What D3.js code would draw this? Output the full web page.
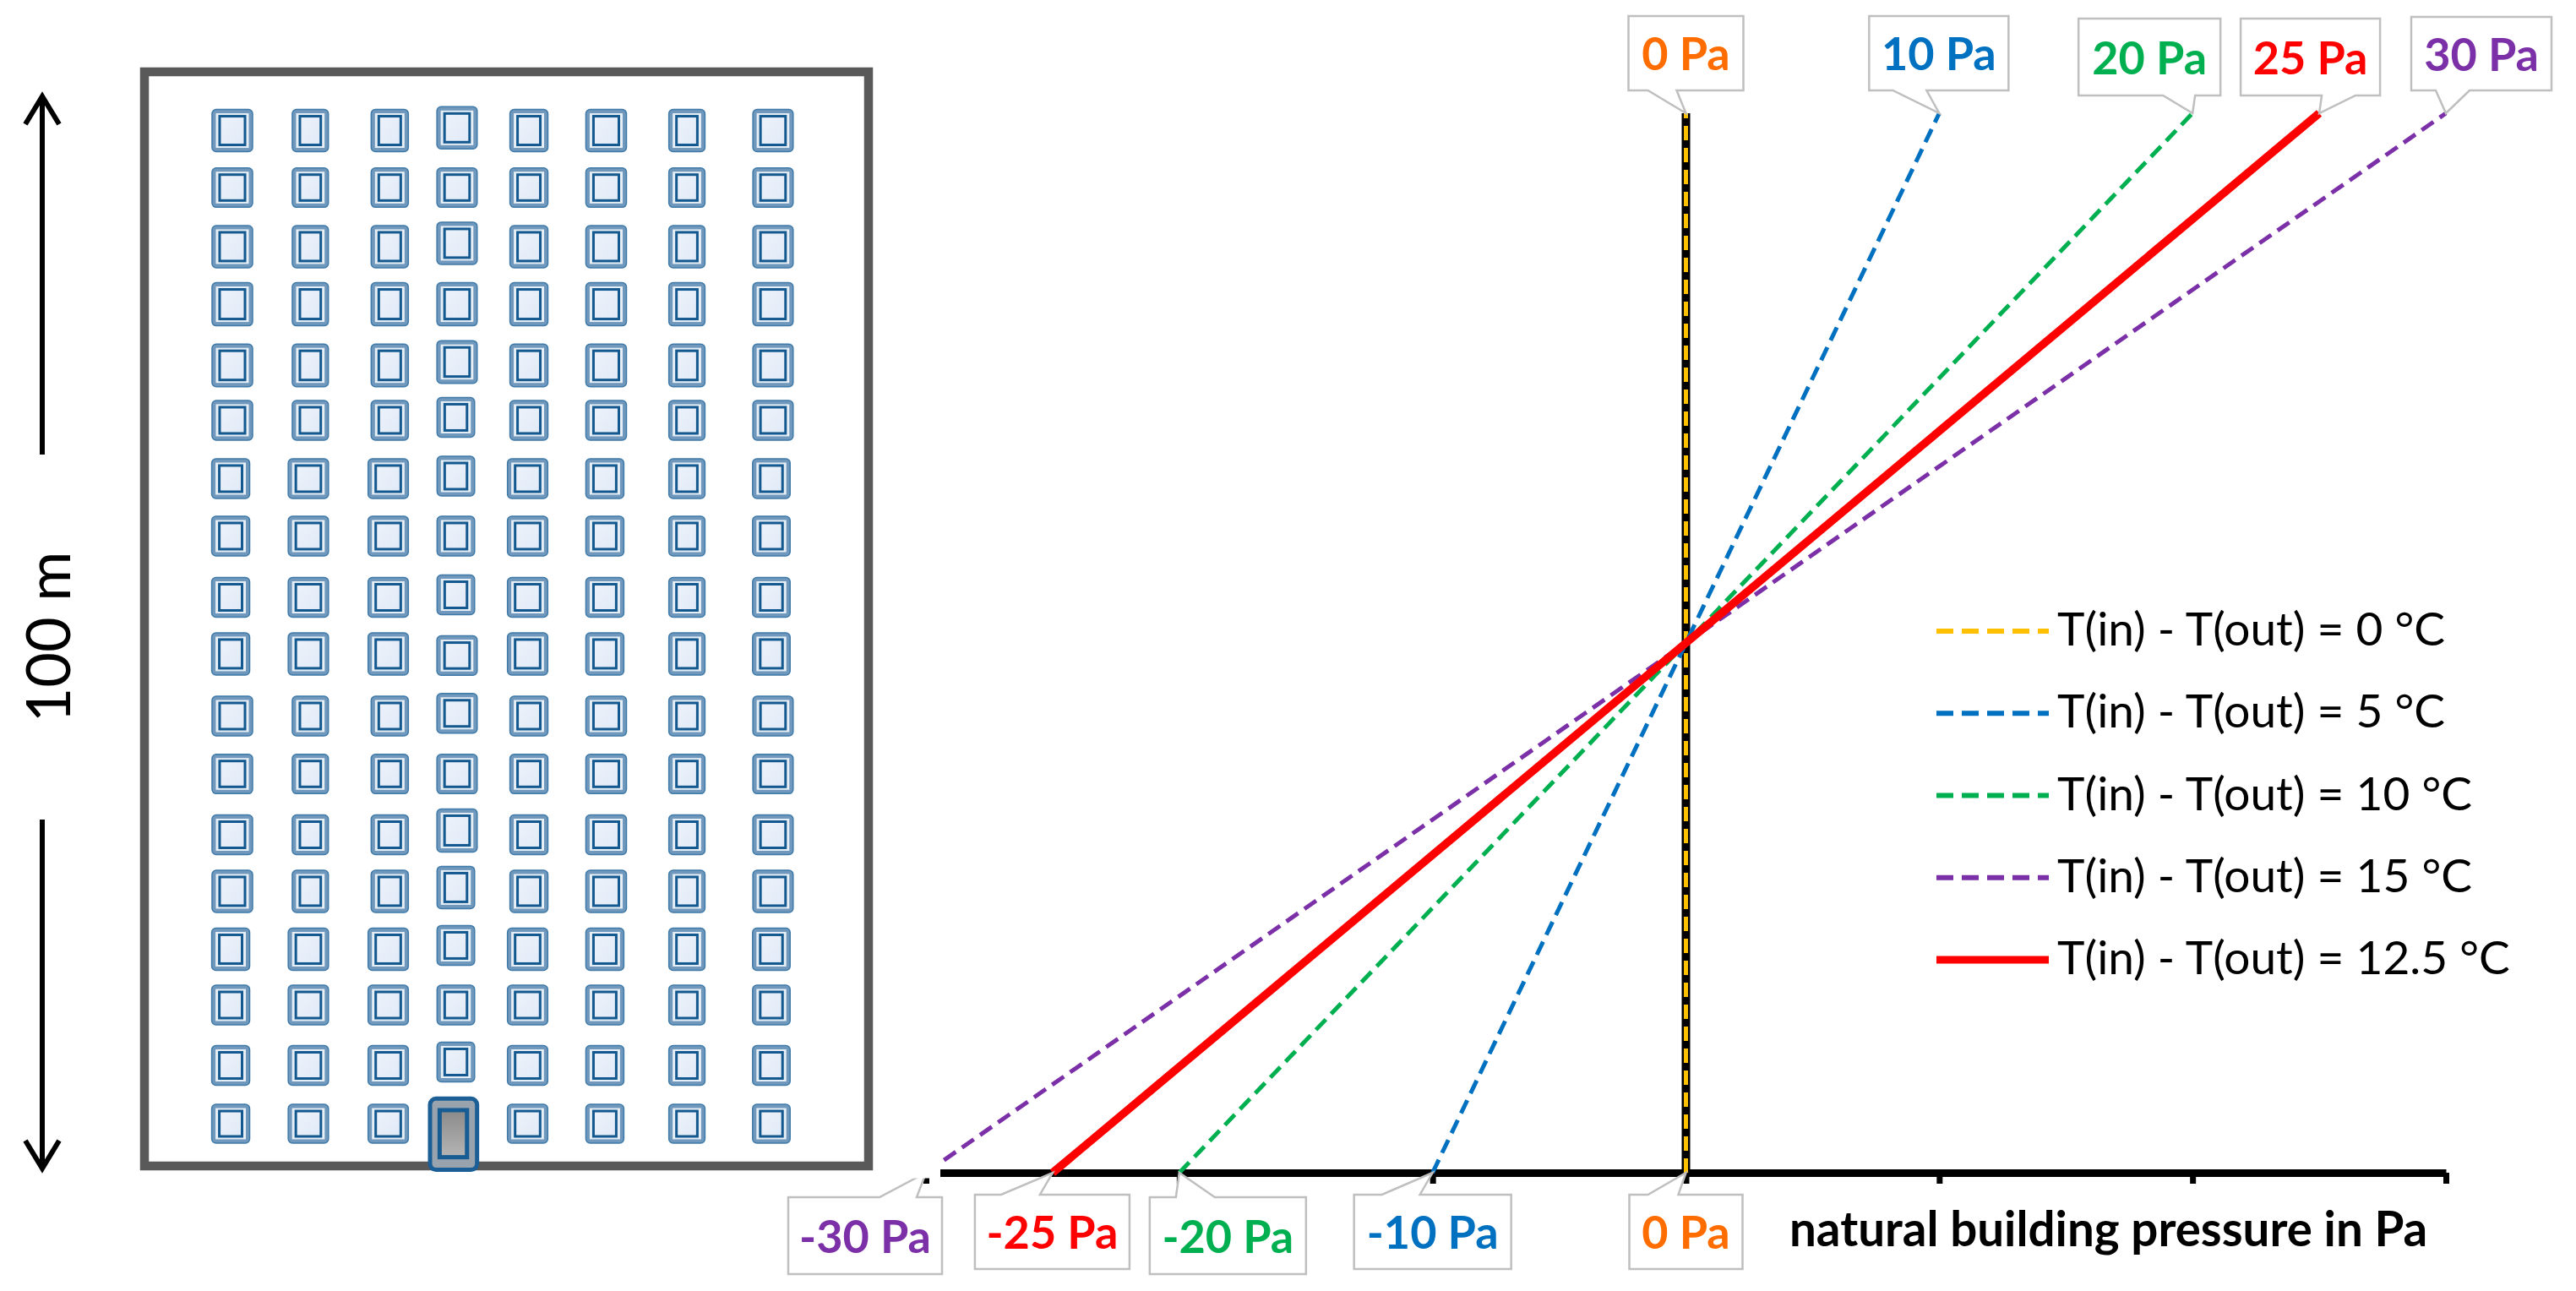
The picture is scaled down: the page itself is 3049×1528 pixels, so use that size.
<!DOCTYPE html>
<html>
<head>
<meta charset="utf-8">
<script src="https://cdn.jsdelivr.net/npm/d3@7"></script>
<style>
  html, body { margin: 0; padding: 0; background: #fff; }
  svg { display: block; }
  text { font-family: Lato, "Open Sans", sans-serif; }
</style>
</head>
<body>
<svg id="canvas"></svg>
<script>
// pressure lines: indoor-outdoor temperature difference and pressure at building foot / roof
var tempDiffs = [0, 5, 10, 15, 12.5];
var footPressure = [0, -10, -20, -30, -25];
var roofPressure = [0, 10, 20, 30, 25];
var axisTicks = [-30, -20, -10, 0, 10, 20, 30];
var heightRange = [0, 100];

// window rows of the facade, height above ground in m (top row first)
var rowHeights = [94.63, 89.42, 84.02, 78.76, 73.17, 68.15, 62.82, 57.57, 51.97, 46.8, 41.12, 35.83, 30.27, 25.1, 19.81, 14.71, 9.19, 3.86];
var rowSizes = [3.86, 3.6, 3.86, 3.94, 3.9, 3.63, 3.63, 3.63, 3.63, 3.86, 3.63, 3.6, 3.63, 3.86, 3.86, 3.63, 3.63, 3.55];
var rowVariant = [0, 0, 0, 0, 0, 0, 1, 1, 1, 1, 0, 0, 0, 0, 1, 1, 1, 1];
// two slightly different column layouts, position along the facade in m
var columnPos = [
  [8.03, 15.16, 22.42, 28.57, 35.14, 42.2, 49.58, 57.45],
  [7.88, 14.98, 22.28, 28.46, 35.02, 42.08, 49.58, 57.3]
];
var columnSizes = [
  [3.71, 3.3, 3.4, 3.68, 3.47, 3.71, 3.3, 3.68],
  [3.47, 3.68, 3.68, 3.43, 3.68, 3.47, 3.3, 3.43]
];
// the fourth column is drawn a bit off the grid
var col4Shift = [0.25, 0, 0.31, 0, 0.31, 0.27, 0.23, 0, 0.23, -0.15, 0.25, 0, 0.39, 0.35, 0.35, 0, 0.31, 0];
var col4Variant = [0, 0, 0, 0, 0, 1, 1, 1, 1, 0, 0, 0, 0, 1, 1, 1, 1, 1];
var col4RowSizes = [3.86, 3.6, 3.86, 3.94, 3.9, 3.63, 3.63, 3.63, 3.63, 3.6, 3.63, 3.6, 3.94, 3.86, 3.63, 3.63, 3.63];

var legendLabels = tempDiffs.map(function (t) { return 'T(in) - T(out) = ' + t + ' °C'; });

var lineColors = ['#ffc000', '#0070c0', '#00b050', '#7c30a8', '#ff0000'];
var labelColors = ['#ff6d00', '#0070c0', '#00b050', '#7c30a8', '#ff0000'];

var width = 3049, height = 1528;
var svg = d3.select('#canvas').attr('width', width).attr('height', height);

var x = d3.scaleLinear().domain([-30, 30]).range([1096, 2895]);
var y = d3.scaleLinear().domain(heightRange).range([1388, 134]);
var bx = d3.scaleLinear().domain([0, 66.18]).range([171, 1028]);
var by = d3.scaleLinear().domain([0, 100]).range([1380, 85]);
function mx(d) { return bx(d) - bx(0); }
function my(d) { return by(0) - by(d); }

var defs = svg.append('defs');
var doorGrad = defs.append('linearGradient').attr('id', 'door-fill').attr('x1', 0).attr('y1', 0).attr('x2', 0).attr('y2', 1);
doorGrad.append('stop').attr('offset', 0).attr('stop-color', '#8a8a8a');
doorGrad.append('stop').attr('offset', 1).attr('stop-color', '#b5b5b5');
var paneGrad = defs.append('linearGradient').attr('id', 'pane-fill').attr('x1', 0).attr('y1', 0).attr('x2', 1).attr('y2', 1);
paneGrad.append('stop').attr('offset', 0).attr('stop-color', '#edf2fa');
paneGrad.append('stop').attr('offset', 1).attr('stop-color', '#e0eaf7');

// building
var building = svg.append('g');
building.append('rect')
  .attr('x', bx(0)).attr('y', by(100))
  .attr('width', mx(66.18)).attr('height', my(100))
  .attr('fill', '#fff').attr('stroke', '#595959').attr('stroke-width', 10.5);

var windows = [];
rowHeights.forEach(function (h, r) {
  columnPos[rowVariant[r]].forEach(function (c, i) {
    var isCol4 = i == 3;
    if (isCol4 && r == rowHeights.length - 1) return;
    var v = isCol4 ? col4Variant[r] : rowVariant[r];
    windows.push({
      cx: columnPos[v][i],
      cy: isCol4 ? h + col4Shift[r] : h,
      w: columnSizes[v][i],
      h: isCol4 ? col4RowSizes[r] : rowSizes[r]
    });
  });
});

var win = building.selectAll('.window').data(windows).enter().append('g').attr('class', 'window')
  .attr('transform', function (d) { return 'translate(' + bx(d.cx) + ',' + by(d.cy) + ')'; });
win.append('rect')
  .attr('x', function (d) { return -mx(d.w) / 2; }).attr('y', function (d) { return -my(d.h) / 2; })
  .attr('width', function (d) { return mx(d.w); }).attr('height', function (d) { return my(d.h); })
  .attr('rx', 5).attr('fill', '#6f98bc').attr('stroke', '#3f7aa8').attr('stroke-width', 1.5);
win.append('rect')
  .attr('x', function (d) { return -mx(d.w) / 2 + 4.5; }).attr('y', function (d) { return -my(d.h) / 2 + 4.5; })
  .attr('width', function (d) { return mx(d.w) - 9; }).attr('height', function (d) { return my(d.h) - 9; })
  .attr('fill', '#e6eef6');
win.append('rect')
  .attr('x', function (d) { return -mx(d.w) / 2 + 9; }).attr('y', function (d) { return -my(d.h) / 2 + 8; })
  .attr('width', function (d) { return mx(d.w) - 18; }).attr('height', function (d) { return my(d.h) - 16; })
  .attr('fill', 'url(#pane-fill)').attr('stroke', '#13588f').attr('stroke-width', 3);

// door over the bottom wall
building.append('rect')
  .attr('x', bx(26.1)).attr('y', by(6.15))
  .attr('width', mx(4.3)).attr('height', my(6.5))
  .attr('rx', 7).attr('fill', '#98a3ad').attr('stroke', '#1b5f96').attr('stroke-width', 5);
building.append('rect')
  .attr('x', bx(26.98)).attr('y', by(5.1))
  .attr('width', mx(2.5)).attr('height', my(4.3))
  .attr('fill', 'url(#door-fill)').attr('stroke', '#175c92').attr('stroke-width', 5);

// height arrow
var arrow = svg.append('g').attr('fill', 'none').attr('stroke', '#000').attr('stroke-width', 6);
arrow.append('path').attr('d', 'M50,538V116M30,147L50,114L70,147').attr('stroke-linejoin', 'miter');
arrow.append('path').attr('d', 'M50,970V1381M30,1350L50,1383L70,1350').attr('stroke-linejoin', 'miter');
svg.append('text').attr('transform', 'translate(83,754) rotate(-90)')
  .attr('text-anchor', 'middle').attr('font-size', 72).attr('fill', '#000').text('100 m');

// axis
var axis = d3.axisBottom(x).tickValues(axisTicks).tickSize(13).tickSizeOuter(0).tickFormat('');
var axisG = svg.append('g').attr('transform', 'translate(0,' + y(0) + ')').call(axis);
axisG.select('.domain').attr('stroke', '#000').attr('stroke-width', 9);
axisG.selectAll('.tick line').attr('stroke', '#000').attr('stroke-width', 7);

// pressure lines
var line = d3.line()
  .x(function (d) { return x(d.p); })
  .y(function (d) { return y(d.h); });

var series = tempDiffs.map(function (t, i) {
  return { t: t, color: lineColors[i], points: [{ p: footPressure[i], h: heightRange[0] }, { p: roofPressure[i], h: heightRange[1] }] };
});

svg.append('line')
  .attr('x1', x(0)).attr('x2', x(0)).attr('y1', y(100)).attr('y2', y(0))
  .attr('stroke', '#000').attr('stroke-width', 10);

svg.selectAll('.pressure').data(series).enter().append('path')
  .attr('class', 'pressure')
  .attr('d', function (d) { return line(d.points); })
  .attr('fill', 'none')
  .attr('stroke', function (d) { return d.color; })
  .attr('stroke-width', function (d) { return d.t == 12.5 ? 9.5 : 5; })
  .attr('stroke-dasharray', function (d) { return d.t == 12.5 ? null : '17 9'; });

// callouts, box and pointer base given relative to the point they mark
var roofBoxes = [
  { l: -68, r: 68, t: -115, b: -27, p0: -45, p1: -11 },
  { l: -83, r: 82, t: -115, b: -27, p0: -55, p1: -15 },
  { l: -135, r: 33, t: -112, b: -21, p0: -35, p1: 3 },
  { l: -41, r: 125, t: -114, b: -27, p0: -12, p1: 28 },
  { l: -93, r: 72, t: -112, b: -21, p0: 3, p1: 43 }
];
var footBoxes = [
  { l: -67, r: 67, t: 26, b: 114, p0: -45, p1: -9 },
  { l: -93, r: 93, t: 26, b: 114, p0: -60, p1: -15 },
  { l: -35, r: 150, t: 29, b: 120, p0: -4, p1: 42 },
  { l: -163, r: 19, t: 29, b: 120, p0: -55, p1: -11 },
  { l: -92, r: 91, t: 26, b: 114, p0: -61, p1: -15 }
];

function addCallout(value, hValue, box, color) {
  var px = x(value), py = y(hValue);
  var up = box.b < 0;
  var pts = [
    [box.l, box.t], up ? null : [box.p0, box.t], up ? null : [0, 0], up ? null : [box.p1, box.t],
    [box.r, box.t], [box.r, box.b], up ? [box.p1, box.b] : null, up ? [0, 0] : null, up ? [box.p0, box.b] : null,
    [box.l, box.b]
  ].filter(function (p) { return p; });
  var g = svg.append('g').attr('transform', 'translate(' + px + ',' + py + ')');
  g.append('polygon')
    .attr('points', pts.map(function (p) { return p.join(','); }).join(' '))
    .attr('fill', '#fff').attr('stroke', '#bfbfbf').attr('stroke-width', 2.5);
  g.append('text')
    .attr('x', (box.l + box.r) / 2)
    .attr('y', (box.t + box.b) / 2 + 20)
    .attr('text-anchor', 'middle')
    .attr('font-size', 54).attr('font-weight', 700)
    .attr('fill', color)
    .text(value + ' Pa');
}

tempDiffs.forEach(function (t, i) {
  addCallout(roofPressure[i], 100, roofBoxes[i], labelColors[i]);
  addCallout(footPressure[i], 0, footBoxes[i], labelColors[i]);
});
// the -30 Pa label sits over the axis end, blank that out
svg.append('rect').attr('x', 1060).attr('y', 1355).attr('width', 53).attr('height', 39.5).attr('fill', '#fff');

// axis title
svg.append('text')
  .attr('x', 2118).attr('y', 1475)
  .attr('font-size', 56.5).attr('font-weight', 700).attr('fill', '#000')
  .text('natural building pressure in Pa');

// legend
var legendY = d3.scaleLinear().domain([0, 4]).range([747, 1136]);
var legend = svg.selectAll('.legend').data(series).enter().append('g').attr('class', 'legend')
  .attr('transform', function (d, i) { return 'translate(0,' + legendY(i) + ')'; });
legend.append('line')
  .attr('x1', 2292).attr('x2', 2425)
  .attr('stroke', function (d) { return d.color; })
  .attr('stroke-width', function (d) { return d.t == 12.5 ? 9 : 6; })
  .attr('stroke-dasharray', function (d) { return d.t == 12.5 ? null : '20 10'; });
legend.append('text')
  .attr('x', 2435).attr('y', 17)
  .attr('font-size', 55).attr('fill', '#000')
  .text(function (d, i) { return legendLabels[i]; });
</script>
</body>
</html>
